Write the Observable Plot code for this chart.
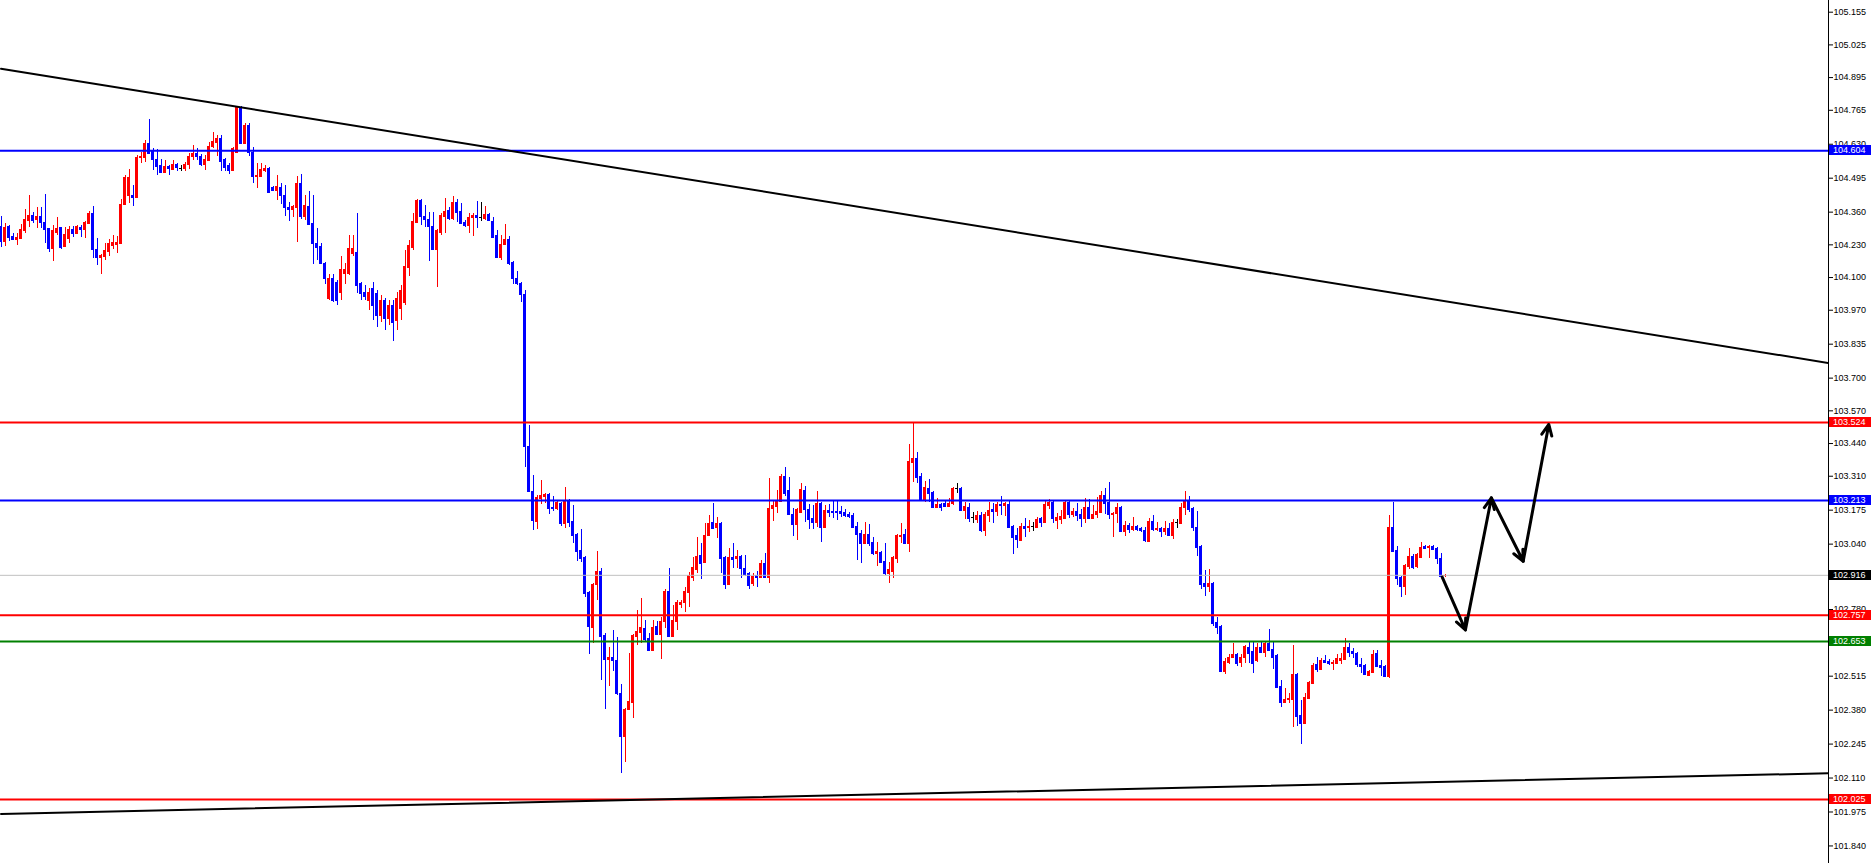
<!DOCTYPE html>
<html><head><meta charset="utf-8">
<script src="https://cdn.jsdelivr.net/npm/d3@7"></script>
<script src="https://cdn.jsdelivr.net/npm/@observablehq/plot@0.6"></script>
<style>
html,body{margin:0;padding:0;background:#fff;}
#chart{width:1871px;height:863px;overflow:hidden;}
svg{display:block;}
</style></head><body><div id="chart"></div>
<script>
const opens = [104.303,104.243,104.303,104.263,104.251,104.255,104.287,104.327,104.347,104.331,
104.343,104.319,104.295,104.215,104.279,104.299,104.224,104.255,104.291,104.275,
104.299,104.291,104.315,104.355,104.212,104.180,104.184,104.204,104.228,104.232,
104.235,104.390,104.426,104.426,104.418,104.577,104.577,104.633,104.601,104.569,
104.545,104.518,104.541,104.530,104.549,104.533,104.533,104.549,104.581,104.593,
104.581,104.549,104.565,104.621,104.637,104.653,104.569,104.545,104.526,104.597,
104.776,104.633,104.704,104.597,104.502,104.502,104.526,104.533,104.458,104.446,
104.458,104.426,104.378,104.370,104.378,104.474,104.343,104.382,104.315,104.235,
104.224,104.156,104.017,104.096,104.080,104.041,104.116,104.116,104.196,104.200,
104.076,104.041,104.009,104.056,104.037,103.949,104.009,103.937,103.989,103.929,
103.977,104.001,104.140,104.220,104.319,104.406,104.343,104.331,104.303,104.212,
104.279,104.343,104.366,104.335,104.398,104.362,104.319,104.307,104.339,104.347,
104.339,104.335,104.351,104.323,104.267,104.180,104.232,104.251,104.160,104.096,
104.076,104.033,103.428,103.249,103.130,103.221,103.229,103.237,103.186,103.182,
103.202,103.122,103.213,103.130,103.078,103.015,102.987,102.848,102.709,102.879,
102.931,102.677,102.581,102.589,102.577,102.446,102.275,102.382,102.410,102.673,
102.689,102.705,102.665,102.617,102.713,102.681,102.732,102.852,102.673,102.732,
102.800,102.808,102.848,102.907,102.939,102.995,102.967,103.074,103.126,103.106,
103.122,102.987,102.879,102.987,102.983,102.991,102.943,102.923,102.883,102.915,
102.907,102.963,102.907,103.182,103.190,103.209,103.309,103.253,103.158,103.118,
103.166,103.253,103.178,103.142,103.126,103.202,103.106,103.174,103.170,103.170,
103.170,103.166,103.158,103.154,103.110,103.082,103.042,103.078,103.046,103.003,
103.007,102.971,102.923,102.931,102.983,103.070,103.078,103.042,103.364,103.380,
103.309,103.217,103.261,103.245,103.186,103.198,103.202,103.190,103.202,103.261,
103.261,103.174,103.186,103.146,103.138,103.154,103.094,103.154,103.178,103.170,
103.198,103.194,103.198,103.110,103.074,103.054,103.110,103.106,103.110,103.106,
103.142,103.126,103.194,103.205,103.134,103.138,103.142,103.205,103.158,103.170,
103.158,103.142,103.186,103.142,103.158,103.166,103.233,103.205,103.158,103.162,
103.186,103.090,103.114,103.098,103.110,103.102,103.094,103.050,103.130,103.098,
103.102,103.090,103.102,103.074,103.126,103.122,103.186,103.213,103.182,103.106,
103.030,102.883,102.871,102.883,102.728,102.713,102.534,102.569,102.589,102.601,
102.569,102.589,102.629,102.613,102.577,102.629,102.609,102.645,102.621,102.597,
102.474,102.410,102.422,102.422,102.522,102.359,102.327,102.426,102.486,102.561,
102.541,102.577,102.573,102.565,102.565,102.577,102.581,102.629,102.613,102.605,
102.561,102.557,102.518,102.530,102.605,102.557,102.553,102.514,103.106,103.015,
102.907,102.871,102.951,102.991,102.951,102.987,103.030,103.027,103.030,103.023,
102.983,102.914];

const highs = [104.343,104.315,104.307,104.275,104.275,104.311,104.370,104.426,104.359,104.378,
104.378,104.430,104.295,104.307,104.339,104.299,104.299,104.303,104.303,104.307,
104.307,104.323,104.362,104.382,104.255,104.192,104.235,104.251,104.267,104.263,
104.410,104.506,104.530,104.466,104.585,104.597,104.645,104.728,104.613,104.609,
104.569,104.565,104.545,104.565,104.553,104.545,104.557,104.593,104.625,104.613,
104.589,104.585,104.637,104.677,104.665,104.665,104.573,104.553,104.617,104.780,
104.780,104.712,104.712,104.617,104.553,104.553,104.545,104.537,104.462,104.506,
104.474,104.466,104.398,104.386,104.502,104.510,104.426,104.442,104.426,104.295,
104.235,104.160,104.112,104.112,104.088,104.184,104.156,104.267,104.267,104.355,
104.080,104.068,104.056,104.080,104.049,104.029,104.017,104.009,104.009,104.041,
104.068,104.208,104.247,104.355,104.410,104.410,104.386,104.359,104.359,104.291,
104.355,104.414,104.378,104.422,104.410,104.394,104.327,104.355,104.355,104.402,
104.398,104.382,104.355,104.339,104.287,104.267,104.311,104.263,104.164,104.124,
104.080,104.049,103.512,103.313,103.233,103.293,103.241,103.241,103.229,103.213,
103.205,103.265,103.217,103.194,103.082,103.098,102.991,102.852,102.883,103.011,
102.943,102.685,102.629,102.697,102.669,102.482,102.386,102.605,102.681,102.776,
102.824,102.736,102.685,102.736,102.732,102.748,102.860,102.943,102.796,102.816,
102.816,102.868,102.927,102.987,103.066,103.042,103.122,103.154,103.202,103.146,
103.126,102.991,103.023,103.042,103.015,102.995,102.995,102.927,102.923,102.931,
102.975,103.003,103.301,103.213,103.253,103.317,103.345,103.305,103.182,103.182,
103.281,103.269,103.198,103.194,103.249,103.205,103.194,103.198,103.213,103.213,
103.190,103.178,103.166,103.162,103.126,103.094,103.126,103.118,103.066,103.046,
103.011,103.042,102.967,102.991,103.078,103.122,103.098,103.436,103.524,103.404,
103.321,103.289,103.297,103.249,103.221,103.202,103.213,103.221,103.265,103.281,
103.265,103.205,103.202,103.166,103.170,103.166,103.166,103.205,103.202,103.205,
103.229,103.205,103.213,103.114,103.102,103.122,103.142,103.134,103.126,103.146,
103.146,103.213,103.217,103.213,103.162,103.174,103.209,103.209,103.182,103.202,
103.178,103.221,103.217,103.194,103.225,103.249,103.261,103.285,103.166,103.202,
103.190,103.130,103.122,103.146,103.114,103.106,103.106,103.142,103.154,103.126,
103.106,103.130,103.122,103.138,103.138,103.202,103.249,103.229,103.186,103.170,
103.034,102.935,102.939,102.887,102.748,102.717,102.585,102.601,102.645,102.605,
102.601,102.637,102.649,102.649,102.645,102.649,102.649,102.701,102.649,102.601,
102.498,102.466,102.446,102.637,102.526,102.418,102.446,102.494,102.565,102.589,
102.585,102.597,102.581,102.577,102.601,102.605,102.665,102.645,102.625,102.609,
102.585,102.561,102.538,102.617,102.617,102.577,102.557,103.154,103.205,103.030,
102.911,102.959,103.023,102.999,103.003,103.046,103.034,103.034,103.034,103.027,
103.003,102.919];

const lows = [104.220,104.224,104.243,104.247,104.228,104.251,104.275,104.299,104.315,104.295,
104.295,104.235,104.200,104.164,104.267,104.212,104.220,104.235,104.259,104.271,
104.259,104.255,104.311,104.176,104.148,104.112,104.168,104.184,104.212,104.196,
104.232,104.386,104.394,104.382,104.414,104.553,104.557,104.589,104.526,104.506,
104.514,104.514,104.506,104.526,104.522,104.522,104.522,104.530,104.565,104.565,
104.541,104.526,104.561,104.613,104.581,104.522,104.522,104.510,104.522,104.593,
104.629,104.629,104.581,104.474,104.454,104.498,104.518,104.434,104.442,104.406,
104.390,104.343,104.323,104.339,104.239,104.331,104.327,104.307,104.152,104.168,
104.152,104.072,104.009,104.001,103.989,104.009,104.072,104.108,104.184,104.037,
104.009,104.009,103.969,103.929,103.901,103.921,103.889,103.909,103.846,103.889,
103.929,103.989,104.104,104.208,104.315,104.307,104.299,104.164,104.208,104.060,
104.267,104.275,104.327,104.327,104.319,104.311,104.299,104.275,104.263,104.295,
104.323,104.327,104.323,104.255,104.176,104.168,104.228,104.148,104.072,104.068,
104.001,103.345,103.245,103.094,103.098,103.198,103.202,103.158,103.170,103.174,
103.110,103.102,103.106,103.042,102.971,102.967,102.828,102.601,102.645,102.816,
102.498,102.382,102.474,102.534,102.438,102.128,102.172,102.378,102.347,102.637,
102.645,102.649,102.613,102.613,102.677,102.581,102.705,102.669,102.669,102.697,
102.784,102.768,102.788,102.891,102.923,102.899,102.963,103.070,103.098,103.062,
102.923,102.860,102.875,102.943,102.943,102.903,102.911,102.860,102.871,102.868,
102.903,102.903,102.883,103.130,103.162,103.205,103.229,103.154,103.070,103.054,
103.162,103.126,103.098,103.098,103.106,103.046,103.102,103.146,103.142,103.134,
103.146,103.146,103.142,103.102,102.975,102.963,103.038,103.030,102.995,102.951,
102.963,102.915,102.883,102.903,102.963,103.042,103.038,103.007,103.285,103.281,
103.213,103.205,103.205,103.182,103.182,103.170,103.186,103.186,103.194,103.241,
103.170,103.138,103.126,103.122,103.122,103.086,103.070,103.126,103.122,103.150,
103.154,103.150,103.102,102.999,103.023,103.050,103.066,103.086,103.090,103.102,
103.106,103.122,103.178,103.122,103.098,103.118,103.138,103.142,103.146,103.130,
103.106,103.122,103.138,103.138,103.142,103.162,103.158,103.138,103.066,103.122,
103.086,103.070,103.082,103.090,103.090,103.086,103.046,103.046,103.090,103.090,
103.066,103.074,103.070,103.058,103.102,103.118,103.154,103.166,103.090,102.991,
102.860,102.832,102.848,102.713,102.681,102.530,102.522,102.561,102.585,102.553,
102.550,102.565,102.565,102.526,102.569,102.605,102.589,102.613,102.542,102.466,
102.390,102.406,102.406,102.311,102.315,102.243,102.323,102.422,102.482,102.530,
102.538,102.565,102.557,102.538,102.561,102.561,102.577,102.589,102.585,102.550,
102.526,102.518,102.514,102.526,102.550,102.514,102.510,102.506,103.007,102.875,
102.828,102.836,102.939,102.939,102.943,102.983,103.019,102.983,103.015,102.959,
102.907,102.907];

const closes = [104.243,104.299,104.259,104.251,104.259,104.291,104.331,104.347,104.327,104.343,
104.319,104.291,104.215,104.287,104.295,104.220,104.271,104.291,104.275,104.303,
104.291,104.319,104.355,104.212,104.180,104.188,104.208,104.235,104.239,104.239,
104.390,104.498,104.498,104.418,104.577,104.581,104.633,104.593,104.569,104.541,
104.518,104.541,104.533,104.549,104.537,104.533,104.549,104.581,104.593,104.581,
104.549,104.569,104.621,104.641,104.653,104.561,104.537,104.526,104.613,104.776,
104.633,104.704,104.597,104.502,104.506,104.530,104.533,104.438,104.446,104.462,
104.426,104.378,104.370,104.382,104.474,104.343,104.386,104.311,104.235,104.220,
104.156,104.096,104.096,104.009,104.009,104.132,104.132,104.215,104.215,104.068,
104.037,104.025,104.041,103.989,103.949,104.009,103.937,103.989,103.921,104.017,
104.049,104.144,104.228,104.323,104.406,104.343,104.331,104.303,104.212,104.287,
104.347,104.362,104.335,104.398,104.359,104.315,104.307,104.339,104.347,104.339,
104.339,104.351,104.327,104.259,104.180,104.232,104.251,104.156,104.096,104.076,
104.033,103.428,103.249,103.134,103.225,103.233,103.237,103.182,103.182,103.205,
103.122,103.213,103.126,103.074,103.011,102.983,102.844,102.713,102.879,102.931,
102.673,102.581,102.589,102.577,102.446,102.275,102.382,102.414,102.677,102.693,
102.709,102.661,102.617,102.709,102.681,102.732,102.852,102.673,102.736,102.808,
102.808,102.852,102.915,102.947,102.991,102.963,103.074,103.122,103.102,103.122,
102.983,102.879,102.987,102.979,102.991,102.943,102.919,102.875,102.911,102.907,
102.963,102.907,103.182,103.194,103.213,103.309,103.241,103.158,103.118,103.178,
103.257,103.178,103.138,103.126,103.202,103.106,103.174,103.166,103.166,103.166,
103.162,103.154,103.150,103.106,103.078,103.042,103.078,103.042,103.003,103.011,
102.967,102.923,102.939,102.987,103.074,103.074,103.042,103.368,103.380,103.305,
103.217,103.265,103.241,103.186,103.198,103.186,103.190,103.202,103.261,103.261,
103.174,103.190,103.142,103.146,103.154,103.094,103.158,103.174,103.170,103.198,
103.194,103.202,103.106,103.066,103.058,103.110,103.102,103.110,103.110,103.138,
103.126,103.198,103.205,103.142,103.146,103.150,103.205,103.158,103.170,103.154,
103.142,103.186,103.142,103.158,103.170,103.233,103.202,103.158,103.162,103.186,
103.090,103.114,103.098,103.110,103.098,103.094,103.054,103.130,103.098,103.102,
103.090,103.102,103.074,103.126,103.126,103.186,103.213,103.178,103.106,103.027,
102.879,102.871,102.883,102.724,102.709,102.534,102.573,102.589,102.601,102.565,
102.589,102.633,102.605,102.565,102.629,102.609,102.645,102.617,102.589,102.470,
102.410,102.422,102.426,102.522,102.355,102.327,102.430,102.490,102.557,102.541,
102.577,102.569,102.565,102.569,102.585,102.585,102.629,102.609,102.605,102.561,
102.553,102.522,102.534,102.601,102.553,102.550,102.514,103.106,103.011,102.903,
102.871,102.955,102.991,102.947,102.999,103.027,103.023,103.030,103.019,102.983,
102.911,102.916];

// axis tick labels (those fully hidden under the price tags in the reference are left out)
const yTicks = [105.155,105.025,104.895,104.765,104.630,104.495,104.360,104.230,104.100,103.970,
103.835,103.700,103.570,103.440,103.310,103.175,103.040,102.780,
102.515,102.380,102.245,102.110,101.975,101.840];

const levelPrices = [104.604, 103.524, 103.213, 102.757, 102.653, 102.025];
const levelColors = ["#0000ff", "#ff0000", "#0000ff", "#ff0000", "#008000", "#ff0000"];
const bidPrice = 102.916;

const trendTimes = [0, 457];
const upperTrendPrices = [104.930, 103.760];
const lowerTrendPrices = [101.967, 102.129];

const arrowTimes = [360.3, 366.1, 372.6, 380.55, 386.95];
const arrowPrices = [102.909, 102.699, 103.224, 102.972, 103.516];

// ---- build tables ----
const UP = "#ff0000", DOWN = "#0000ff", DOJI = "#000000";
const candles = closes.map((c, i) => {
  const o = opens[i];
  return {i, open: o, high: highs[i], low: lows[i], close: c,
          color: c > o ? UP : c < o ? DOWN : DOJI};
});
const levels = levelPrices.map((p, k) => ({price: p, color: levelColors[k]}));
const upperTrend = trendTimes.map((t, k) => ({t, price: upperTrendPrices[k]}));
const lowerTrend = trendTimes.map((t, k) => ({t, price: lowerTrendPrices[k]}));
const arrows = arrowTimes.slice(1).map((t, k) => ({
  t1: arrowTimes[k], p1: arrowPrices[k], t2: t, p2: arrowPrices[k + 1]
}));

const W = 1871, H = 863, MR = 43;
const FONT = "'Liberation Sans', Arial, sans-serif";
const chart = Plot.plot({
  width: W, height: H,
  marginLeft: 0, marginRight: MR, marginTop: 0, marginBottom: 0,
  style: {background: "#fff", color: "#000", fontFamily: FONT, fontSize: "9px"},
  x: {domain: [-0.125, 456.875], axis: null},
  y: {domain: [101.7702, 105.2015], axis: "right", ticks: yTicks, tickSize: 4, tickPadding: 1,
      tickFormat: d3.format(".3f"), label: null, line: true},
  marks: [
    Plot.ruleX(candles, {x: "i", y1: "low", y2: "high", stroke: "color", strokeWidth: 1, shapeRendering: "crispEdges"}),
    Plot.rect(candles, {x1: d => d.i - 0.375, x2: d => d.i + 0.375, y1: "open", y2: "close", fill: "color", shapeRendering: "crispEdges"}),
    Plot.ruleY(candles, {y: "open", x1: d => d.i - 0.375, x2: d => d.i + 0.375, stroke: "color", strokeWidth: 1, shapeRendering: "crispEdges"}),
    Plot.ruleY(candles, {y: "close", x1: d => d.i - 0.375, x2: d => d.i + 0.375, stroke: "color", strokeWidth: 1, shapeRendering: "crispEdges"}),
    Plot.ruleY([bidPrice], {stroke: "#c0c0c0", strokeWidth: 1}),
    Plot.ruleY(levels, {y: "price", stroke: "color", strokeWidth: 2}),
    Plot.line(upperTrend, {x: "t", y: "price", stroke: "#000", strokeWidth: 2, clip: true}),
    Plot.line(lowerTrend, {x: "t", y: "price", stroke: "#000", strokeWidth: 2, clip: true}),
    Plot.arrow(arrows, {x1: "t1", y1: "p1", x2: "t2", y2: "p2", stroke: "#000", strokeWidth: 3, headLength: 6, headAngle: 50})
  ]
});
document.getElementById("chart").appendChild(chart);

// price tags on the right axis, positioned with the chart's own y scale
const sy = chart.scale("y");
const svg = d3.select(chart);
const axisX = W - MR;
const tags = levels.map(d => ({price: d.price, bg: d.color})).concat([{price: bidPrice, bg: "#000"}]);
const g = svg.append("g").attr("text-anchor", "start");
tags.forEach(d => {
  const y = Math.round(sy.apply(d.price));
  g.append("rect").attr("x", axisX + 1).attr("y", y - 5).attr("width", MR - 1).attr("height", 10).attr("fill", d.bg);
  g.append("text").attr("x", axisX + 5).attr("y", y).attr("dy", "0.35em").attr("fill", "#fff")
    .attr("text-anchor", "start")
    .style("font-family", FONT).style("font-size", "9px").text(d.price.toFixed(3));
});
</script>
</body></html>
